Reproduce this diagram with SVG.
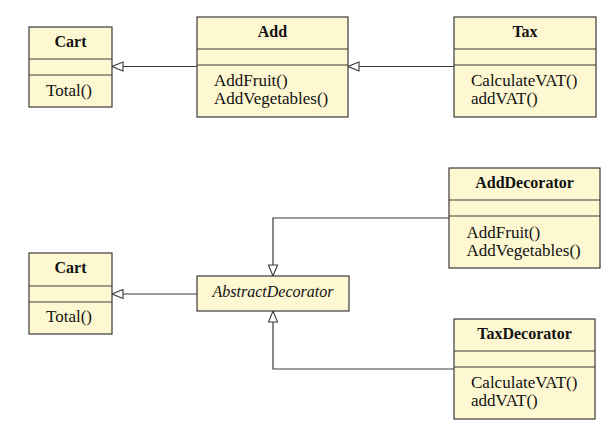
<svg xmlns="http://www.w3.org/2000/svg" width="616" height="435" viewBox="0 0 616 435">
<style>
.box{fill:#fef8d2;stroke:#3a3a3a;stroke-width:1.2}
.div{stroke:#3a3a3a;stroke-width:1.2}
.t{font-family:"Liberation Serif","Times New Roman",serif;font-size:17px;fill:#111}
.b{font-weight:bold;text-anchor:middle;font-size:16px}
.i{font-style:italic;text-anchor:middle;font-size:16px}
.c{fill:none;stroke:#3a3a3a;stroke-width:1.2;marker-end:url(#tri)}
</style>
<defs>
<marker id="tri" markerUnits="userSpaceOnUse" markerWidth="13" markerHeight="11" refX="11" refY="4.5" orient="auto" viewBox="-1 -1 13 11">
<path d="M0,0 L11,4.5 L0,9 Z" fill="#fff" stroke="#3a3a3a" stroke-width="1.1"/>
</marker>
</defs>
<rect width="616" height="435" fill="#fff"/>
<g id="connectors">
<path class="c" d="M197,66.5 H112"/>
<path class="c" d="M454,66.5 H348"/>
<path class="c" d="M197,294 H112"/>
<path class="c" d="M449,218 H273 V276"/>
<path class="c" d="M454,369 H273 V311"/>
</g>
<g id="cart1">
<rect class="box" x="29" y="27" width="83" height="80"/>
<line class="div" x1="29" y1="59" x2="112" y2="59"/>
<line class="div" x1="29" y1="75" x2="112" y2="75"/>
<text class="t b" x="70.5" y="47">Cart</text>
<text class="t" x="46" y="96">Total()</text>
</g>
<g id="add">
<rect class="box" x="197" y="17" width="151" height="100"/>
<line class="div" x1="197" y1="49" x2="348" y2="49"/>
<line class="div" x1="197" y1="65" x2="348" y2="65"/>
<text class="t b" x="272.5" y="37">Add</text>
<text class="t" x="214" y="86">AddFruit()</text>
<text class="t" x="214" y="104">AddVegetables()</text>
</g>
<g id="tax">
<rect class="box" x="454" y="17" width="142" height="100"/>
<line class="div" x1="454" y1="49" x2="596" y2="49"/>
<line class="div" x1="454" y1="65" x2="596" y2="65"/>
<text class="t b" x="525" y="37">Tax</text>
<text class="t" x="471" y="86">CalculateVAT()</text>
<text class="t" x="471" y="104">addVAT()</text>
</g>
<g id="cart2">
<rect class="box" x="29" y="253" width="83" height="81"/>
<line class="div" x1="29" y1="286" x2="112" y2="286"/>
<line class="div" x1="29" y1="302" x2="112" y2="302"/>
<text class="t b" x="70.5" y="273">Cart</text>
<text class="t" x="46" y="322">Total()</text>
</g>
<g id="abstractDecorator">
<rect class="box" x="197" y="276" width="152" height="35"/>
<text class="t i" x="273" y="297">AbstractDecorator</text>
</g>
<g id="addDecorator">
<rect class="box" x="449" y="168" width="151" height="100"/>
<line class="div" x1="449" y1="200" x2="600" y2="200"/>
<line class="div" x1="449" y1="216" x2="600" y2="216"/>
<text class="t b" x="524.5" y="188">AddDecorator</text>
<text class="t" x="466.5" y="238">AddFruit()</text>
<text class="t" x="466.5" y="256">AddVegetables()</text>
</g>
<g id="taxDecorator">
<rect class="box" x="454" y="319" width="141" height="100"/>
<line class="div" x1="454" y1="351" x2="595" y2="351"/>
<line class="div" x1="454" y1="367" x2="595" y2="367"/>
<text class="t b" x="524.5" y="339">TaxDecorator</text>
<text class="t" x="471" y="388">CalculateVAT()</text>
<text class="t" x="471" y="406">addVAT()</text>
</g>
</svg>
